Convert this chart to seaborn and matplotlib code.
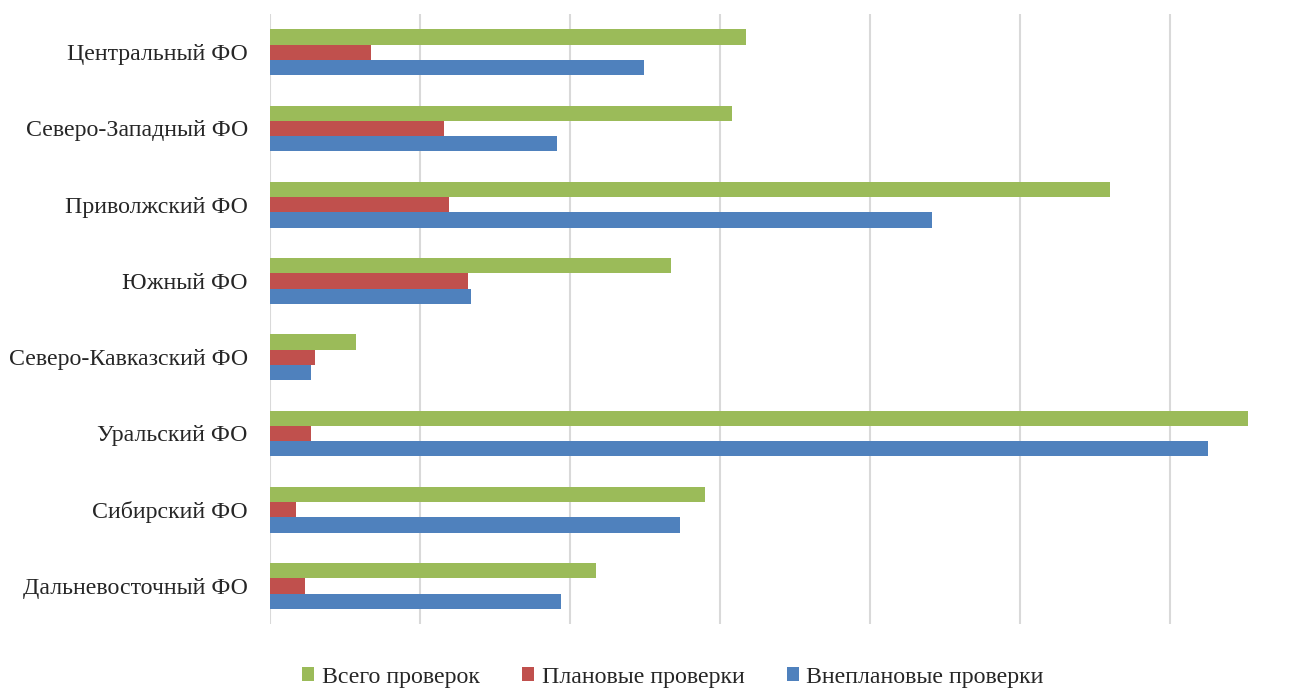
import pandas as pd
import matplotlib.pyplot as plt
import seaborn as sns
from matplotlib.patches import Patch

regions = ['Центральный ФО', 'Северо-Западный ФО', 'Приволжский ФО', 'Южный ФО',
           'Северо-Кавказский ФО', 'Уральский ФО', 'Сибирский ФО', 'Дальневосточный ФО']
series = ['Всего проверок', 'Плановые проверки', 'Внеплановые проверки']
total = [317, 308, 560, 267, 57, 652, 290, 217]
planned = [67, 116, 119, 132, 30, 27, 17, 23]
unplanned = [249, 191, 441, 134, 27, 625, 273, 194]
colors = ['#9BBB59', '#C0504D', '#4F81BD']

df = pd.DataFrame({
    'region': regions * 3,
    'series': [series[0]] * 8 + [series[1]] * 8 + [series[2]] * 8,
    'value': total + planned + unplanned,
})

sns.set_style('white')
plt.rcParams['font.family'] = ['Liberation Serif', 'DejaVu Serif']

fig = plt.figure(figsize=(13.07, 6.89), dpi=100)
ax = fig.add_axes([270 / 1307, 1 - 624 / 689, (1260 - 270) / 1307, 610 / 689])

sns.barplot(data=df, y='region', x='value', hue='series', hue_order=series,
            order=regions, palette=colors, orient='h', width=0.6,
            linewidth=0, saturation=1, ax=ax, legend=False)

ax.set_xlim(0, 660)
ax.set_xticks(range(0, 700, 100))
ax.set_xticklabels([])
ax.grid(axis='x', color='#d9d9d9', linewidth=1.5)
ax.set_axisbelow(True)
for s in ax.spines.values():
    s.set_visible(False)
ax.tick_params(axis='both', length=0)
ax.tick_params(axis='y', labelsize=17.2, pad=16)
ax.set_xlabel('')
ax.set_ylabel('')

handles = [Patch(facecolor=c, edgecolor='none') for c in colors]
fig.legend(handles, series, loc='center', bbox_to_anchor=(0.515, 1 - 677 / 689),
           ncol=3, frameon=False, fontsize=17.2, handlelength=0.5, handleheight=0.5,
           handletextpad=0.3, columnspacing=1.8)

plt.savefig('out.png', dpi=100)
